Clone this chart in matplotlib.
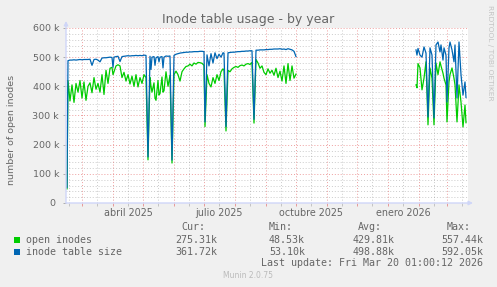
import datetime as dt
import numpy as np
import matplotlib
matplotlib.use("Agg")
import matplotlib.pyplot as plt
import matplotlib.transforms as mtransforms

# ---------------- data (values in thousands, x = days since 2025-02-13) ----------------
START = dt.date(2025, 2, 13)

seg1_days = [1, 2, 4, 6, 8, 10, 12, 14, 16, 18, 20, 22, 24, 26, 28, 30, 32, 34, 36, 38,
             40, 42, 44, 46, 47, 48, 50, 52, 54, 56, 58, 60, 62, 64, 66, 68, 70, 72, 74, 76,
             78, 80, 82, 84, 85, 86, 88, 89, 90, 92, 93, 94, 96, 97, 98, 100, 102, 104, 106, 108,
             110, 112, 114, 116, 118, 120, 122, 124, 126, 128, 130, 132, 134, 136, 138, 139, 141, 143, 145, 147,
             149, 151, 153, 155, 157, 158, 160, 162, 164, 166, 168, 170, 172, 174, 176, 178, 180, 182, 184, 186,
             188, 190, 192, 194, 196, 198, 200, 202, 204, 206, 208, 210, 212, 214, 216, 218, 220, 222, 224, 226,
             228, 230]
seg1_open = [48.53, 420, 350, 405, 345, 410, 380, 420, 360, 415, 352, 400, 412, 378, 430, 390, 410, 380, 440, 372,
             455, 410, 462, 465, 440, 450, 470, 474, 470, 430, 448, 418, 440, 408, 435, 400, 440, 398, 430, 410,
             440, 430, 148, 430, 400, 380, 412, 360, 352, 420, 370, 375, 432, 380, 385, 450, 400, 438, 137, 440,
             452, 440, 418, 450, 460, 468, 470, 476, 470, 480, 476, 482, 481, 479, 472, 262, 440, 410, 398, 430,
             410, 440, 420, 450, 460, 455, 247, 455, 450, 460, 465, 468, 465, 471, 473, 470, 476, 478, 475, 482,
             274, 492, 480, 462, 470, 448, 440, 460, 445, 455, 438, 462, 430, 452, 418, 470, 410, 478, 420, 470,
             428, 442]
seg1_table = [53.10, 488, 490, 490, 491, 490, 491, 492, 491, 492, 492, 492, 493, 472, 492, 493, 490, 484, 497, 498,
              498, 499, 500, 499, 465, 500, 502, 503, 485, 502, 503, 504, 505, 504, 505, 505, 506, 505, 506, 505,
              507, 506, 158, 503, 458, 500, 502, 472, 498, 502, 484, 500, 502, 463, 500, 504, 503, 504, 147, 506,
              510, 512, 514, 515, 516, 517, 517, 518, 518, 519, 519, 519, 520, 520, 519, 278, 508, 470, 512, 480,
              515, 495, 510, 500, 515, 514, 262, 515, 516, 517, 517, 518, 519, 519, 520, 520, 521, 521, 522, 522,
              287, 524, 524, 525, 525, 525, 526, 526, 527, 527, 528, 528, 528, 529, 527, 528, 526, 529, 527, 525,
              520, 502]

seg2_days = [350, 351, 352, 354, 356, 358, 360, 362, 364, 366, 368, 370, 372, 374, 375, 377, 378, 380, 381, 383,
             384, 386, 388, 389, 391, 393, 395, 397, 399, 400]
seg2_open = [405, 395, 478, 463, 388, 428, 484, 268, 463, 428, 268, 480, 440, 484, 470, 445, 428, 405, 278, 415,
             440, 463, 428, 405, 278, 405, 346, 261, 336, 275.31]
seg2_table = [525, 507, 530, 507, 500, 535, 514, 295, 532, 507, 292, 542, 552, 518, 542, 490, 532, 507, 346, 532,
              552, 525, 484, 542, 360, 552, 440, 370, 415, 361.72]

series_names = ["open inodes", "inode table size"]
series_colors = ["#00CC00", "#0066B3"]
stat_headers = ["Cur:", "Min:", "Avg:", "Max:"]
stats_open = ["275.31k", "48.53k", "429.81k", "557.44k"]
stats_table = ["361.72k", "53.10k", "498.88k", "592.05k"]

y_ticks = [0, 100000, 200000, 300000, 400000, 500000, 600000]
y_labels = ["0 ", "100 k", "200 k", "300 k", "400 k", "500 k", "600 k"]
x_label_dates = [dt.date(2025, 4, 16), dt.date(2025, 7, 16), dt.date(2025, 10, 16), dt.date(2026, 1, 16)]
x_labels = ["abril 2025", "julio 2025", "octubre 2025", "enero 2026"]

assert len(seg1_days) == len(seg1_open) == len(seg1_table)
assert len(seg2_days) == len(seg2_open) == len(seg2_table)

# ---------------- figure ----------------
W, H = 497, 287
fig = plt.figure(figsize=(W / 100, H / 100), dpi=100, facecolor="#F0F0F0")
AX_L, AX_R, AX_T, AX_B = 66, 468, 28, 203
ax = fig.add_axes([AX_L / W, 1 - AX_B / H, (AX_R - AX_L) / W, (AX_B - AX_T) / H])
ax.set_facecolor("white")
XMAX = 402
ax.set_xlim(0, XMAX)
ax.set_ylim(0, 600000)
for s in ax.spines.values():
    s.set_visible(False)

FONT_C = "#666666"
MINOR_C = (0.55, 0.55, 0.55, 0.45)
MAJOR_C = (0.88, 0.31, 0.31, 0.55)
AXIS_C = "#CFD6F8"
dots = (0, (1, 2))

def dday(d):
    return (d - START).days

# grid
for v in range(20000, 600001, 20000):
    if v % 100000:
        ax.axhline(v, color=MINOR_C, lw=0.7, ls=dots, zorder=1)
for v in range(100000, 600001, 100000):
    ax.axhline(v, color=MAJOR_C, lw=0.7, ls=dots, zorder=1)

month_starts, mid_months = [], []
y, m = 2025, 2
while True:
    d1 = dday(dt.date(y, m, 1))
    d15 = dday(dt.date(y, m, 16))
    if 0 < d1 < XMAX:
        month_starts.append(d1)
    if 0 < d15 < XMAX:
        mid_months.append(d15)
    m += 1
    if m > 12:
        m, y = 1, y + 1
    if d1 > XMAX:
        break
for d in mid_months:
    ax.axvline(d, color=MINOR_C, lw=0.7, ls=dots, zorder=1)
for d in month_starts:
    ax.axvline(d, color=MAJOR_C, lw=0.7, ls=dots, zorder=1)

# ticks
ax.set_xticks(month_starts)
ax.set_xticklabels([])
ax.set_xticks(mid_months, minor=True)
ax.tick_params(axis="x", which="major", length=2.2, width=0.7, color=MAJOR_C, direction="out")
ax.tick_params(axis="x", which="minor", length=2.2, width=0.7, color=MINOR_C, direction="out")
ax.set_yticks(y_ticks)
ax.set_yticklabels(y_labels)
ax.set_yticks(range(20000, 600000, 20000), minor=True)
ax.tick_params(axis="y", which="major", length=2, width=0.7, color=(0.5, 0.5, 0.5, 0.6),
               direction="out", pad=3, labelsize=6.8, labelcolor=FONT_C)
ax.tick_params(axis="y", which="minor", length=0)

trans = mtransforms.blended_transform_factory(ax.transData, ax.transAxes)
for d, lab in zip(x_label_dates, x_labels):
    ax.text(dday(d), -9.7 / 175, lab, transform=trans, ha="center", va="center",
            fontsize=6.9, color=FONT_C, clip_on=False)

# data
k = 1000.0
ax.plot(seg1_days, np.array(seg1_open) * k, color=series_colors[0], lw=0.9, zorder=3)
ax.plot(seg2_days, np.array(seg2_open) * k, color=series_colors[0], lw=0.9, zorder=3)
ax.plot(seg1_days, np.array(seg1_table) * k, color=series_colors[1], lw=0.9, zorder=4)
ax.plot(seg2_days, np.array(seg2_table) * k, color=series_colors[1], lw=0.9, zorder=4)

# axes with arrows
ax.annotate("", xy=(1 + 5 / 402, 0), xytext=(0, 0), xycoords="axes fraction",
            arrowprops=dict(arrowstyle="-|>", color=AXIS_C, lw=1.0, mutation_scale=6,
                            shrinkA=0, shrinkB=0), zorder=5, annotation_clip=False)
ax.annotate("", xy=(0, 1 + 7 / 175), xytext=(0, 0), xycoords="axes fraction",
            arrowprops=dict(arrowstyle="-|>", color=AXIS_C, lw=1.0, mutation_scale=6,
                            shrinkA=0, shrinkB=0), zorder=5, annotation_clip=False)

# ---------------- texts ----------------
def fx(x):
    return x / W

def fy(y):
    return 1 - y / H

fig.text(fx(248.5), fy(19), "Inode table usage - by year", ha="center", va="center",
         fontsize=9, color=FONT_C)
fig.text(fx(12), fy(130), "number of open inodes", ha="center", va="center",
         rotation=90, fontsize=6.8, color=FONT_C)
fig.text(fx(490), fy(5), "RRDTOOL / TOBI OETIKER", ha="center", va="top",
         rotation=270, fontsize=5.4, color="#C4C4C4")
fig.text(fx(248), fy(276), "Munin 2.0.75", ha="center", va="center",
         fontsize=5.5, color="#BBBBBB")

MONO = "DejaVu Sans Mono"
MFS = 7.2
head_x = [181, 269, 358, 447]
val_x = [[175, 269, 353, 441], [175, 269, 353, 441]]
for hx, h in zip(head_x, stat_headers):
    fig.text(fx(hx), fy(227), h, ha="left", va="center", family=MONO, fontsize=MFS, color=FONT_C)
rows_y = [240, 252]
for i, (name, col, stats) in enumerate(zip(series_names, series_colors, [stats_open, stats_table])):
    yy = rows_y[i]
    fig.patches.append(plt.Rectangle((fx(14), fy(yy + 3)), 6 / W, 6 / H, transform=fig.transFigure,
                                     facecolor=col, edgecolor="none"))
    fig.text(fx(26), fy(yy), name, ha="left", va="center", family=MONO, fontsize=MFS, color=FONT_C)
    for vx, sv in zip(val_x[i], stats):
        fig.text(fx(vx), fy(yy), sv, ha="left", va="center", family=MONO, fontsize=MFS, color=FONT_C)
fig.text(fx(483), fy(263), "Last update: Fri Mar 20 01:00:12 2026", ha="right", va="center",
         family=MONO, fontsize=MFS, color=FONT_C)

fig.savefig("out.png", dpi=100, facecolor=fig.get_facecolor())
